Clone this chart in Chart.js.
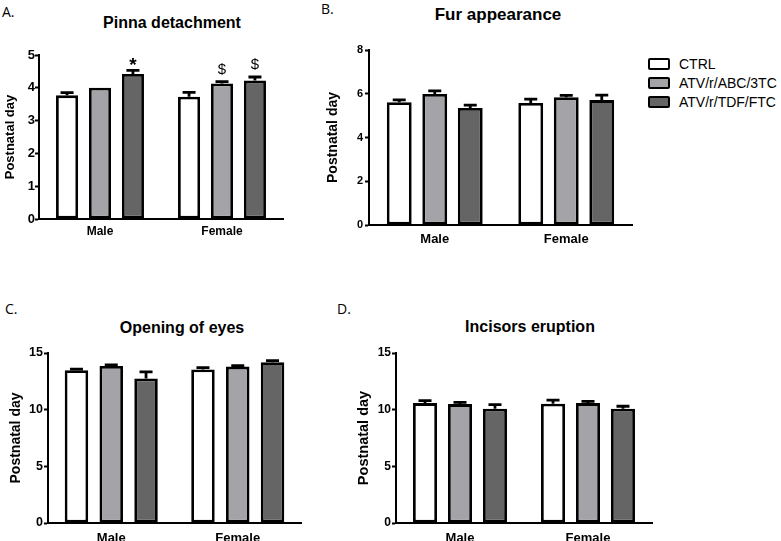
<!DOCTYPE html>
<html>
<head>
<meta charset="utf-8">
<script src="https://cdn.jsdelivr.net/npm/chart.js@4.4.0/dist/chart.umd.min.js"></script>
<style>
  body { margin: 0; background: #fff; width: 781px; height: 541px; position: relative; overflow: hidden; font-family: "Liberation Sans", Arial, sans-serif; }
  canvas { position: absolute; }
  .ttl { position: absolute; transform: translate(-50%, -50%); white-space: nowrap; font-weight: bold; font-size: 16px; line-height: 16px; }
  .lab { position: absolute; transform: translateY(-50%); font-family: "Open Sans", sans-serif; font-size: 14px; line-height: 14px; }
  .leg { position: absolute; left: 648px; font-size: 14px; line-height: 14px; }
  .leg span.box { position: absolute; left: 0; top: 1px; width: 18px; height: 8px; border: 2px solid #000; border-radius: 2px; }
  .leg span.txt { position: absolute; left: 31px; top: 0; white-space: nowrap; }
</style>
</head>
<body>

<div class="lab" style="left:2px;top:12px">A.</div>
<div class="lab" style="left:321px;top:9px">B.</div>
<div class="lab" style="left:5px;top:309px">C.</div>
<div class="lab" style="left:337px;top:309px">D.</div>

<div class="ttl" style="left:172px;top:23px">Pinna detachment</div>
<div class="ttl" style="left:498px;top:15px;font-size:17px">Fur appearance</div>
<div class="ttl" style="left:182px;top:328px">Opening of eyes</div>
<div class="ttl" style="left:530px;top:327px">Incisors eruption</div>

<div class="leg" style="top:57px"><span class="box" style="background:#fff"></span><span class="txt">CTRL</span></div>
<div class="leg" style="top:76px"><span class="box" style="background:#a4a4a8"></span><span class="txt">ATV/r/ABC/3TC</span></div>
<div class="leg" style="top:95px"><span class="box" style="background:#656565"></span><span class="txt">ATV/r/TDF/FTC</span></div>

<canvas id="chartA" width="290" height="210" style="left:0px;top:40px"></canvas>
<canvas id="chartB" width="318" height="225" style="left:322px;top:35px"></canvas>
<canvas id="chartC" width="305" height="203" style="left:5px;top:338px"></canvas>
<canvas id="chartD" width="310" height="203" style="left:352px;top:338px"></canvas>

<script>
const categories = ['Male', 'Female'];
const groups = ['CTRL', 'ATV/r/ABC/3TC', 'ATV/r/TDF/FTC'];
const fills = ['#ffffff', '#a4a4a8', '#656565'];

// A. Pinna detachment
const pinnaCtrl = [3.77, 3.73];
const pinnaAbc = [4.00, 4.13];
const pinnaTdf = [4.42, 4.22];
const pinnaCtrlErr = [0.08, 0.13];
const pinnaAbcErr = [0.00, 0.06];
const pinnaTdfErr = [0.11, 0.11];
const pinnaAbcMarks = ['', '$'];
const pinnaTdfMarks = ['*', '$'];

// B. Fur appearance
const furCtrl = [5.61, 5.58];
const furAbc = [5.99, 5.84];
const furTdf = [5.35, 5.71];
const furCtrlErr = [0.11, 0.17];
const furAbcErr = [0.14, 0.09];
const furTdfErr = [0.13, 0.23];

// C. Opening of eyes
const eyesCtrl = [13.48, 13.54];
const eyesAbc = [13.86, 13.80];
const eyesTdf = [12.75, 14.18];
const eyesCtrlErr = [0.10, 0.17];
const eyesAbcErr = [0.09, 0.09];
const eyesTdfErr = [0.58, 0.15];

// D. Incisors eruption
const incCtrl = [10.58, 10.52];
const incAbc = [10.49, 10.58];
const incTdf = [10.08, 10.08];
const incCtrlErr = [0.22, 0.33];
const incAbcErr = [0.15, 0.16];
const incTdfErr = [0.36, 0.22];

// y axis ticks
const pinnaTicks = [0, 1, 2, 3, 4, 5];
const furTicks = [0, 2, 4, 6, 8];
const eyesTicks = [0, 5, 10, 15];
const incTicks = [0, 5, 10, 15];

// one-sided error bars + significance marks
const errorBars = {
  id: 'errorBars',
  afterDatasetsDraw(chart) {
    const ctx = chart.ctx;
    const y = chart.scales.y;
    chart.data.datasets.forEach((ds, i) => {
      const meta = chart.getDatasetMeta(i);
      meta.data.forEach((bar, j) => {
        const e = ds.errors[j];
        const top = y.getPixelForValue(ds.data[j] + e);
        ctx.save();
        ctx.strokeStyle = '#000';
        ctx.lineWidth = 2.8;
        if (e > 0) {
          ctx.beginPath();
          ctx.moveTo(bar.x, bar.y);
          ctx.lineTo(bar.x, top);
          ctx.moveTo(bar.x - 6.5, top);
          ctx.lineTo(bar.x + 6.5, top);
          ctx.stroke();
        }
        const m = ds.marks ? ds.marks[j] : '';
        if (m) {
          ctx.fillStyle = '#000';
          ctx.textAlign = 'center';
          ctx.textBaseline = 'alphabetic';
          if (m === '*') {
            ctx.font = 'bold 19px "Liberation Sans", Arial';
            ctx.fillText(m, bar.x, top + 1);
          } else {
            ctx.font = '15px "Liberation Sans", Arial';
            ctx.fillText(m, bar.x, top - 8);
          }
        }
        ctx.restore();
      });
    });
  }
};

function makeChart(id, data, errs, marks, ticks, s) {
  const datasets = groups.map((g, i) => ({
    label: g,
    data: data[i],
    errors: errs[i],
    marks: marks[i],
    backgroundColor: fills[i],
    borderColor: '#000',
    borderWidth: 2.8,
    borderSkipped: false,
    categoryPercentage: s.cp,
    barPercentage: s.bp
  }));
  return new Chart(document.getElementById(id), {
    type: 'bar',
    data: { labels: categories, datasets: datasets },
    plugins: [errorBars],
    options: {
      responsive: false,
      animation: false,
      layout: { padding: { top: s.pt, right: s.pr, left: 0, bottom: 0 } },
      plugins: { legend: { display: false }, tooltip: { enabled: false } },
      scales: {
        x: {
          grid: { display: true, drawOnChartArea: false, drawTicks: false },
          border: { display: true, color: '#000', width: 2 },
          ticks: { color: '#000', padding: s.xpad, font: { family: '"Liberation Sans", Arial', weight: 'bold', size: s.xfont } },
          afterFit(scale) { scale.height = s.xh; }
        },
        y: {
          min: 0,
          max: ticks[ticks.length - 1],
          afterBuildTicks(scale) { scale.ticks = ticks.map(v => ({ value: v })); },
          grid: { display: true, drawOnChartArea: false, drawTicks: true, tickLength: 4, tickWidth: 2, color: '#000' },
          border: { display: true, color: '#000', width: 2 },
          ticks: { color: '#000', padding: s.ypad, font: { family: '"Liberation Sans", Arial', weight: 'bold', size: s.yfont } },
          title: { display: true, text: 'Postnatal day', color: '#000', padding: { top: 3, bottom: 0 }, font: { family: '"Liberation Sans", Arial', weight: 'bold', size: s.tfont } },
          afterFit(scale) { scale.width = s.yw; }
        }
      }
    }
  });
}

makeChart('chartA', [pinnaCtrl, pinnaAbc, pinnaTdf], [pinnaCtrlErr, pinnaAbcErr, pinnaTdfErr],
  [null, pinnaAbcMarks, pinnaTdfMarks], pinnaTicks,
  { pt: 15, pr: 7, xh: 31, yw: 39, cp: 0.81, bp: 0.67, xpad: 5, ypad: 0, xfont: 12, yfont: 13, tfont: 13 });

makeChart('chartB', [furCtrl, furAbc, furTdf], [furCtrlErr, furAbcErr, furTdfErr],
  [null, null, null], furTicks,
  { pt: 15, pr: 8, xh: 35, yw: 47, cp: 0.81, bp: 0.70, xpad: 7, ypad: 2, xfont: 13, yfont: 11, tfont: 14 });

makeChart('chartC', [eyesCtrl, eyesAbc, eyesTdf], [eyesCtrlErr, eyesAbcErr, eyesTdfErr],
  [null, null, null], eyesTicks,
  { pt: 15, pr: 9, xh: 18, yw: 43, cp: 0.825, bp: 0.675, xpad: 8, ypad: 1, xfont: 13, yfont: 12.5, tfont: 14 });

makeChart('chartD', [incCtrl, incAbc, incTdf], [incCtrlErr, incAbcErr, incTdfErr],
  [null, null, null], incTicks,
  { pt: 15, pr: 10, xh: 18, yw: 44, cp: 0.82, bp: 0.686, xpad: 8, ypad: 1, xfont: 13, yfont: 12, tfont: 14.5 });
</script>
</body>
</html>
